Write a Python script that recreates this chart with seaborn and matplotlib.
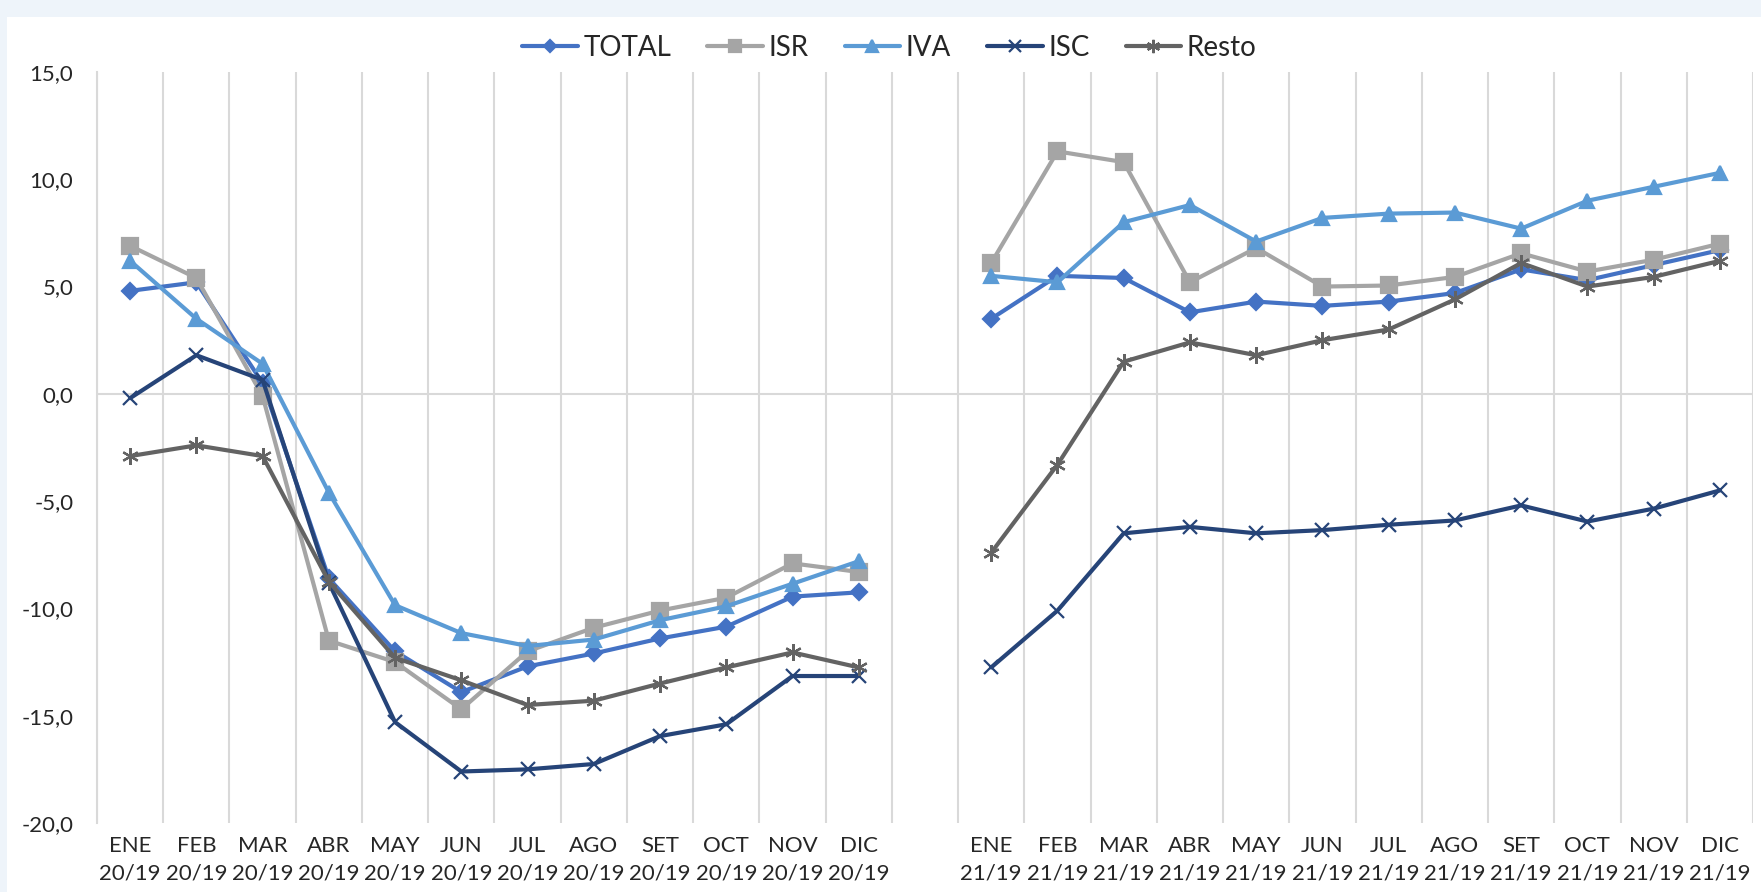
import matplotlib.pyplot as plt
import matplotlib.patches as mpatches
from matplotlib.lines import Line2D
import numpy as np
import pandas as pd
import seaborn as sns

# ---- Datos (variación %, 2020 vs 2019 y 2021 vs 2019) ----
meses = ['ENE', 'FEB', 'MAR', 'ABR', 'MAY', 'JUN', 'JUL', 'AGO', 'SET', 'OCT', 'NOV', 'DIC']
periodos = ['20/19', '21/19']

total = [4.8, 5.2, 0.5, -8.6, -12.0, -13.9, -12.7, -12.1, -11.4, -10.85, -9.45, -9.25,
         3.5, 5.5, 5.4, 3.8, 4.3, 4.1, 4.3, 4.7, 5.8, 5.3, 6.0, 6.7]
isr = [6.9, 5.4, -0.1, -11.5, -12.5, -14.7, -12.0, -10.9, -10.1, -9.5, -7.9, -8.3,
       6.1, 11.3, 10.8, 5.2, 6.8, 5.0, 5.05, 5.45, 6.55, 5.7, 6.25, 7.0]
iva = [6.2, 3.5, 1.4, -4.6, -9.85, -11.15, -11.75, -11.45, -10.55, -9.9, -8.85, -7.8,
       5.5, 5.2, 8.0, 8.8, 7.1, 8.2, 8.4, 8.45, 7.7, 9.0, 9.65, 10.3]
isc = [-0.2, 1.8, 0.65, -8.8, -15.3, -17.6, -17.5, -17.25, -15.95, -15.4, -13.15, -13.15,
       -12.75, -10.1, -6.5, -6.2, -6.5, -6.35, -6.1, -5.9, -5.2, -5.95, -5.35, -4.5]
resto = [-2.9, -2.4, -2.9, -8.75, -12.3, -13.35, -14.5, -14.3, -13.5, -12.75, -12.05, -12.75,
         -7.4, -3.3, 1.5, 2.4, 1.8, 2.5, 3.0, 4.4, 6.1, 5.0, 5.45, 6.2]

series = ['TOTAL', 'ISR', 'IVA', 'ISC', 'Resto']
valores = [total, isr, iva, isc, resto]
colores = ['#4472C4', '#A5A5A5', '#5B9BD5', '#264478', '#636363']
marcadores = ['D', 's', '^', 'x', (6, 2, 0)]
tamanos = [8, 11, 10, 10, 12]

# ---- Armando el DataFrame largo ----
pos = list(range(12)) + list(range(13, 25))
tramo = [periodos[0]] * 12 + [periodos[1]] * 12
filas = []
for nombre, vals in zip(series, valores):
    for p, t, v in zip(pos, tramo, vals):
        filas.append({'serie': nombre, 'tramo': t, 'pos': p, 'valor': v})
df = pd.DataFrame(filas)

# ---- Figura ----
sns.set_style('white')
plt.rcParams['font.family'] = ['Lato', 'DejaVu Sans']

fig = plt.figure(figsize=(17.61, 8.92), dpi=100)
fig.patch.set_facecolor('#eef4fa')
fig.patches.append(mpatches.Rectangle((7 / 1761, 0), 1, 1 - 17 / 892, transform=fig.transFigure,
                                      facecolor='white', edgecolor='none', zorder=-10))
ax = fig.add_axes([97 / 1761, 1 - 823 / 892, (1753 - 97) / 1761, (823 - 72) / 892])
ax.set_facecolor('none')

for nombre, color, mk, ms in zip(series, colores, marcadores, tamanos):
    for t in periodos:
        d = df[(df['serie'] == nombre) & (df['tramo'] == t)]
        sns.lineplot(data=d, x='pos', y='valor', color=color, marker=mk, markersize=ms,
                     markeredgecolor=color, markerfacecolor=color, markeredgewidth=1.6,
                     linewidth=3, ax=ax, zorder=3)

# ---- Ejes ----
ax.set_xlim(-0.5, 24.5)
ax.set_ylim(-20, 15)
yt = np.arange(-20, 16, 5)
ax.set_yticks(yt)
ax.set_yticklabels([f'{v:.1f}'.replace('.', ',') for v in yt], fontsize=16, color='#262626')
etiquetas = [f'{m}\n{t}' for t, m in zip(tramo, meses * 2)]
ax.set_xticks(pos)
ax.set_xticklabels(etiquetas, fontsize=16, color='#262626')
for lbl in ax.get_xticklabels():
    lbl.set_linespacing(1.5)
ax.set_xlabel('')
ax.set_ylabel('')

ax.set_xticks(np.arange(-0.5, 25, 1), minor=True)
ax.grid(which='minor', axis='x', color='#d9d9d9', linewidth=1.5, zorder=1)
ax.grid(which='major', axis='both', visible=False)
ax.axhline(0, color='#d9d9d9', linewidth=1.5, zorder=1)
ax.tick_params(axis='x', which='both', length=0, pad=9)
ax.tick_params(axis='y', direction='inout', length=10, color='#d9d9d9', width=1.5, pad=12)
for s in ['top', 'right', 'bottom']:
    ax.spines[s].set_visible(False)
ax.spines['left'].set_color('#d9d9d9')
ax.spines['left'].set_linewidth(1.5)

# ---- Leyenda ----
handles = [Line2D([0], [0], color=c, marker=m, markersize=s * 0.8, markeredgecolor=c,
                  markerfacecolor=c, markeredgewidth=1.6, linewidth=3)
           for c, m, s in zip(colores, marcadores, tamanos)]
fig.legend(handles, series, loc='center', bbox_to_anchor=(0.505, 0.946), ncol=5,
           frameon=False, fontsize=20, handlelength=2.0, handletextpad=0.2, columnspacing=1.3)

fig.savefig('out.png', dpi=100, facecolor=fig.get_facecolor())
